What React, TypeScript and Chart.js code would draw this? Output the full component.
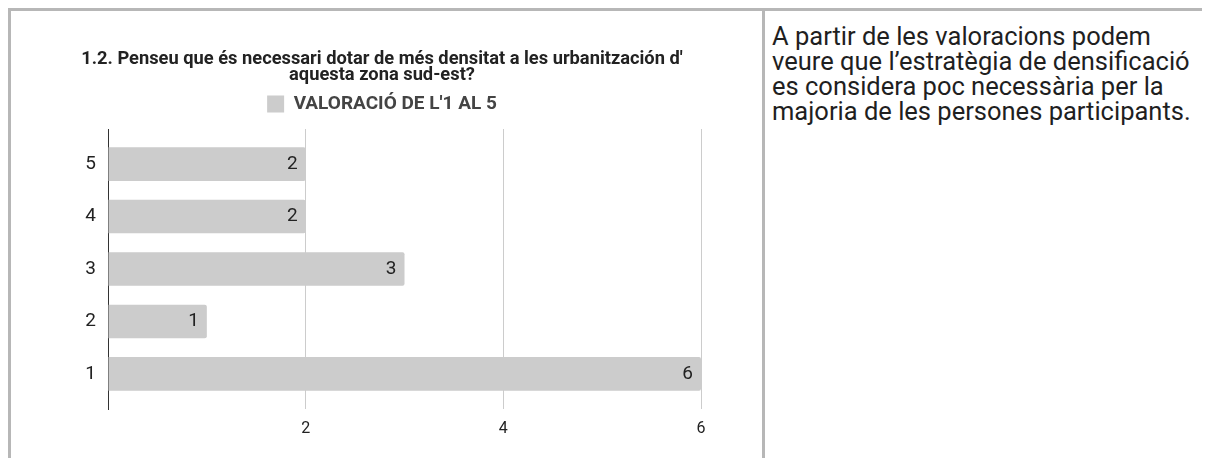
import React, { useEffect, useRef } from "react";
import { Chart, registerables } from "chart.js";

Chart.register(...registerables);

// ---- data ----
const categories = [5, 4, 3, 2, 1];
const values = [2, 2, 3, 1, 6];
const xTickValues = [2, 4, 6];
const yTickLabels = ["1", "2", "3", "4", "5"];
const titleLines = [
  "1.2. Penseu que és necessari dotar de més densitat a les urbanitzación d'",
  "aquesta zona sud-est?",
];
const seriesName = "VALORACIÓ DE L'1 AL 5";
const noteLines = [
  "A partir de les valoracions podem",
  "veure que l’estratègia de densificació",
  "es considera poc necessària per la",
  "majoria de les persones participants.",
];

const FONT = "Roboto";

const valueLabelPlugin = {
  id: "valueLabels",
  afterDatasetsDraw(chart: any) {
    const { ctx } = chart;
    const meta = chart.getDatasetMeta(0);
    ctx.save();
    ctx.font = `19px ${FONT}`;
    ctx.fillStyle = "#222222";
    ctx.textAlign = "right";
    ctx.textBaseline = "middle";
    meta.data.forEach((bar: any, i: number) => {
      const { x, y } = bar.getProps(["x", "y"], true);
      ctx.fillText(String(values[i]), x - 8, y);
    });
    ctx.restore();
  },
};

function BarChart() {
  const ref = useRef<HTMLCanvasElement | null>(null);
  useEffect(() => {
    if (!ref.current) return;
    const chart = new Chart(ref.current, {
      type: "bar",
      data: {
        datasets: [
          {
            label: seriesName,
            data: categories.map((c, i) => ({ x: values[i], y: c })),
            backgroundColor: "#cccccc",
            borderWidth: 0,
            borderRadius: 2,
            borderSkipped: "start",
            categoryPercentage: 1,
            barPercentage: 0.64,
          },
        ],
      },
      options: {
        indexAxis: "y",
        animation: false,
        responsive: false,
        devicePixelRatio: 1,
        layout: { padding: 0 },
        plugins: {
          title: {
            display: true,
            text: titleLines,
            color: "#222222",
            font: { family: FONT, size: 18.3, weight: "bold", lineHeight: "16px" },
            padding: { top: 40.5, bottom: 1 },
          },
          legend: {
            display: true,
            labels: {
              color: "#444444",
              font: { family: FONT, size: 19, weight: "bold" },
              boxWidth: 17,
              boxHeight: 17,
              padding: 10,
            },
          },
          tooltip: { enabled: false },
        },
        scales: {
          x: {
            type: "linear",
            position: "bottom",
            min: 0,
            max: 6,
            afterBuildTicks: (s: any) => {
              s.ticks = [0, ...xTickValues].map((v) => ({ value: v }));
            },
            ticks: {
              padding: 10,
              color: "#222222",
              font: { family: FONT, size: 16 },
              callback: (v: any) => (xTickValues.includes(Number(v)) ? String(v) : ""),
            },
            grid: { color: "#cccccc", drawTicks: false },
            border: { display: false },
            afterFit: (s: any) => {
              s.height = 49;
            },
          },
          xTop: {
            type: "linear",
            position: "top",
            display: true,
            grid: { display: false },
            border: { display: false },
            ticks: { display: false },
            afterFit: (s: any) => {
              s.height = 5.5;
            },
          },
          y: {
            type: "linear",
            position: "left",
            offset: false,
            min: 0.33,
            max: 5.67,
            afterBuildTicks: (s: any) => {
              s.ticks = yTickLabels.map((t) => ({ value: Number(t) }));
            },
            ticks: {
              padding: 12,
              color: "#222222",
              font: { family: FONT, size: 19 },
              callback: (v: any) => String(v),
            },
            grid: { display: false, drawTicks: false, offset: false },
            border: { display: true, color: "#333333", width: 1 },
            afterFit: (s: any) => {
              s.width = 97;
            },
          },
          yRight: {
            type: "linear",
            position: "right",
            display: true,
            grid: { display: false },
            border: { display: false },
            ticks: { display: false },
            afterFit: (s: any) => {
              s.width = 52;
            },
          },
        },
      } as any,
      plugins: [valueLabelPlugin],
    });
    return () => chart.destroy();
  }, []);
  return <canvas ref={ref} width={742} height={447} style={{ width: 742, height: 447, display: "block" }} />;
}

export default function App() {
  useEffect(() => {
    document.documentElement.style.overflow = "hidden";
    document.body.style.overflow = "hidden";
  }, []);
  return (
    <div style={{ position: "relative", width: 1202, height: 450, overflow: "hidden", background: "#fff" }}>
      <div
        style={{
          position: "absolute",
          left: 0,
          top: 0,
          width: 1400,
          height: 700,
          border: "3px solid #b7b7b7",
          boxSizing: "border-box",
        }}
      />
      <div style={{ position: "absolute", left: 754, top: 0, width: 3, height: 700, background: "#b7b7b7" }} />
      <div style={{ position: "absolute", left: 3, top: 3 }}>
        <BarChart />
      </div>
      <div
        style={{
          position: "absolute",
          left: 764,
          top: 16,
          fontFamily: FONT,
          fontSize: 25.5,
          lineHeight: "25px",
          color: "#1f1f1f",
          whiteSpace: "nowrap",
        }}
      >
        {noteLines.map((l, i) => (
          <div key={i}>{l}</div>
        ))}
      </div>
    </div>
  );
}
